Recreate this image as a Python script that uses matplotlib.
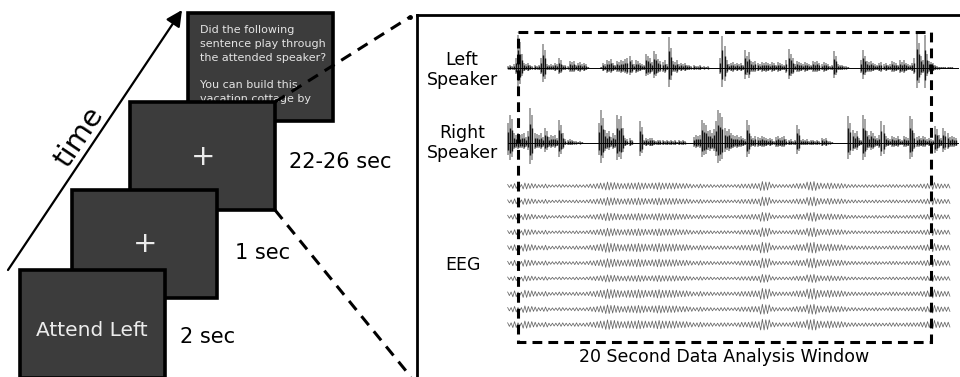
import numpy as np
import matplotlib.pyplot as plt
from matplotlib.patches import Rectangle

plt.rcParams["font.family"] = "DejaVu Sans"

# --- trial sequence -------------------------------------------------------
screen_text = ["Attend Left", "+", "+"]
durations = ["2 sec", "1 sec", "22-26 sec"]
question = ["Did the following", "sentence play through", "the attended speaker?",
            "", "You can build this", "vacation cottage by"]

# --- audio envelopes (pixel amplitude), one sample every 0.1 s from -0.5 s --
AUDIO_T0, AUDIO_DT = -0.5, 0.1
left_speaker = [
    2, 3, 2, 4, 10,
    33, 26, 14, 5, 4, 5, 3, 2, 3, 2,
    3, 10, 24, 18, 4, 3, 4, 3, 5, 4,
    10, 8, 3, 3, 2, 7, 6, 7, 3, 5,
    6, 4, 5, 4, 1, .5, .5, .5, .5, .5,
    1, 5, 4, 8, 7, 9, 5, 3, 7, 6,
    8, 7, 9, 10, 12, 8, 4, 8, 7, 5,
    4, 3, 14, 12, 10, 6, 17, 14, 9, 7,
    6, 8, 4, 31, 20, 7, 6, 8, 4, 5,
    4, 5, 3, 3, 2, 3, 2, 2, 3, 1,
    2, 1, 2, .5, .5, .5, .5, .5, 10, 32,
    22, 8, 4, 5, 6, 4, 5, 4, 5, 3,
    18, 12, 16, 7, 6, 7, 5, 4, 6, 5,
    6, 5, 4, 6, 5, 3, 6, 5, 4, 3,
    8, 19, 14, 10, 4, 7, 6, 5, 4, 6,
    5, 4, 3, 7, 6, 7, 5, 4, 6, 5,
    4, 2, 3, 17, 12, 4, 3, 3, 2, 2,
    1, .5, .5, .5, .5, .5, 8, 18, 12, 7,
    6, 7, 5, 4, 3, 5, 6, 4, 5, 3,
    4, 7, 6, 5, 3, 8, 6, 8, 5, 4,
    3, 5, 10, 34, 25, 12, 8, 33, 14, 7,
    6, 5, 3, 2, 1.5, 1, 1, 1, 1, 1,
    1, .5, .5,
]
right_speaker = [
    20, 28, 24, 10, 8,
    10, 8, 9, 10, 6, 12, 35, 28, 10, 9,
    8, 10, 6, 15, 12, 6, 8, 7, 8, 5,
    23, 18, 10, 4, 3, 4, 3, 2, 2, 1,
    2, 1, .5, .5, .5, .5, .5, .5, .5, 20,
    33, 25, 13, 10, 12, 6, 10, 8, 28, 24,
    27, 15, 5, 4, 5, 3, .5, .5, .5, 22,
    16, 3, 5, 4, 5, 5, 3, 2, 3, 3,
    3, 2, 3, 2, 3, 2, 3, 1, 3, 2,
    3, 2, .5, .5, .5, 6, 8, 7, 8, 23,
    20, 18, 12, 13, 10, 14, 22, 33, 30, 26,
    15, 12, 14, 10, 8, 7, 8, 6, 7, 5,
    4, 23, 18, 7, 5, 7, 6, 5, 7, 6,
    5, 4, 5, 4, 2, 6, 7, 5, 6, 7,
    4, 3, 4, 2, 3, 18, 14, 3, 4, 3,
    4, 2, 3, 3, 2, 3, 2, 5, 4, 5,
    2, 2, 1, .5, .5, .5, .5, .5, .5, .5,
    27, 20, 13, 10, 12, 5, 3, 28, 24, 12,
    8, 12, 10, 7, 5, 8, 22, 18, 7, 5,
    4, 7, 6, 5, 7, 4, 3, 7, 6, 5,
    27, 24, 10, 6, 7, 5, 7, 6, 4, 5,
    4, 3, 17, 14, 8, 5, 15, 12, 10, 6,
    7, 6, 5,
]

# --- EEG: shared envelope every 0.25 s from -0.5 s, gain per channel --------
EEG_T0, EEG_DT = -0.5, 0.25
eeg_envelope = [
    1.5, 2.5, 1.5, 3, 2.5, 2,
    1.5, 2, 1.2, 1.2, 1.5, 1.2, 1.2, 1.5,
    1.2, 1.5, 2, 2.5, 3, 4, 3.5, 3,
    2.5, 3, 3, 3.5, 3, 2.5, 3, 3.5,
    3, 3, 3, 2.5, 2.5, 2, 1.5, 2,
    1.5, 1.5, 1.2, 1.5, 1.5, 1.2, 1.5, 2,
    2, 2.5, 2.5, 4.5, 4, 2, 1.5, 1.5,
    1.5, 2, 2.5, 2.5, 4, 4.5, 3, 2.5,
    3, 2.5, 2.5, 2, 1.5, 1.5, 1.2, 1.5,
    1.2, 1.5, 1.2, 1.2, 1.5, 1.5, 1.2, 1.5,
    1.5, 1.5, 2, 2.5, 3.5, 2.5, 2, 2,
]
eeg_gain = [1.0, 1.0, 1.0, 1.0, 1.2, 1.1, 0.9, 1.2, 1.1, 1.2]

window_sec = (0, 20)
window_label = "20 Second Data Analysis Window"

BOX_FACE = "#3c3c3c"
BOX_TEXT = "#ececec"

fig = plt.figure(figsize=(9.6, 3.77), dpi=100)

# full-figure axes in pixel units for the trial timeline
ax = fig.add_axes([0, 0, 1, 1])
ax.set_xlim(0, 960)
ax.set_ylim(377, 0)
ax.axis("off")

box_w, box_h = 145, 108
box_xy = [(20, 270), (72, 190), (130, 102), (188, 13)]
box_z = [6, 5, 4, 2]
for (x, y), z in zip(box_xy, box_z):
    ax.add_patch(Rectangle((x, y), box_w, box_h, facecolor=BOX_FACE,
                           edgecolor="black", lw=2.6, zorder=z))

ax.text(92, 330, screen_text[0], color=BOX_TEXT, fontsize=14.5,
        ha="center", va="center", zorder=7)
ax.text(145, 244, screen_text[1], color=BOX_TEXT, fontsize=21,
        ha="center", va="center", zorder=6)
ax.text(203, 157, screen_text[2], color=BOX_TEXT, fontsize=21,
        ha="center", va="center", zorder=5)

# the question runs past the bottom of the screen, so cut it off there
qx, qy = box_xy[3]
q = ax.text(qx + 12, qy + 12, "\n".join(question), color="#e4e4e4",
            fontsize=8.0, ha="left", va="top", linespacing=1.48, zorder=3)
q.set_clip_path(Rectangle((qx, qy), box_w + 10, 86, transform=ax.transData))

for (x, y), label in zip([(180, 337), (235, 253), (289, 162)], durations):
    ax.text(x, y, label, fontsize=15, ha="left", va="center")

# time arrow
ax.annotate("", xy=(182, 10), xytext=(8, 270),
            arrowprops=dict(arrowstyle="-|>", color="black", lw=1.6,
                            mutation_scale=24, shrinkA=0, shrinkB=0))
ax.text(79, 137, "time", fontsize=21, rotation=56, ha="center", va="center",
        rotation_mode="anchor")

# zoom lines from the listening screen to the signal panel
ax.plot([275, 410], [102, 17], ls=(0, (3.8, 2.6)), lw=2.2, color="black", zorder=3)
ax.plot([410], [17], "o", ms=2.5, color="black", zorder=3)
ax.plot([275, 411], [210, 377], ls=(0, (3.8, 2.6)), lw=2.2, color="black", zorder=3)

# channel labels
ax.text(462, 70, "Left\nSpeaker", fontsize=12.5, ha="center", va="center")
ax.text(462, 143, "Right\nSpeaker", fontsize=12.5, ha="center", va="center")
ax.text(463, 265, "EEG", fontsize=12.5, ha="center", va="center")

# --- signal panel: x in seconds ---------------------------------------------
win_left_px, win_right_px = 518, 931
px_per_sec = (win_right_px - win_left_px) / (window_sec[1] - window_sec[0])
panel_left, panel_top = 417, 15
ax_sig = fig.add_axes([panel_left / 960, 0, 1 - panel_left / 960, 1 - panel_top / 377])
ax_sig.set_xlim((panel_left - win_left_px) / px_per_sec, (960 - win_left_px) / px_per_sec)
ax_sig.set_ylim(377, panel_top)
ax_sig.patch.set_visible(False)
ax_sig.set_xticks([])
ax_sig.set_yticks([])
for side in ("right", "bottom"):
    ax_sig.spines[side].set_visible(False)
for side in ("left", "top"):
    ax_sig.spines[side].set_linewidth(2)


def draw_audio(axis, env, base):
    env = np.asarray(env, dtype=float)
    t = AUDIO_T0 + AUDIO_DT * np.arange(len(env))
    axis.vlines(t, base - env, base + 0.6 * env, color="#8c8c8c", lw=1.1)
    axis.vlines(t, base - 0.55 * env, base + 0.35 * env, color="#151515", lw=1.0)
    axis.plot([t[0], t[-1] + AUDIO_DT], [base, base], color="black", lw=0.7)


draw_audio(ax_sig, left_speaker, 68)
draw_audio(ax_sig, right_speaker, 143)

sub = 3
eeg_env = np.repeat(eeg_envelope, sub)
eeg_t = EEG_T0 + (EEG_DT / sub) * np.arange(len(eeg_env))
swing = np.where(np.arange(len(eeg_env)) % 2 == 0, -1.0, 1.0)
for i, g in enumerate(eeg_gain):
    base = 186 + 15.4 * i
    ax_sig.plot(eeg_t, base + g * eeg_env * swing, color="#666666", lw=0.55)

ax_sig.add_patch(Rectangle((window_sec[0], 32), window_sec[1] - window_sec[0], 310,
                           fill=False, ls=(0, (3.2, 2.0)), lw=2.2,
                           edgecolor="black", zorder=5))
ax_sig.text(sum(window_sec) / 2, 357, window_label, fontsize=12.5,
            ha="center", va="center")

fig.savefig("out.png", dpi=100)
